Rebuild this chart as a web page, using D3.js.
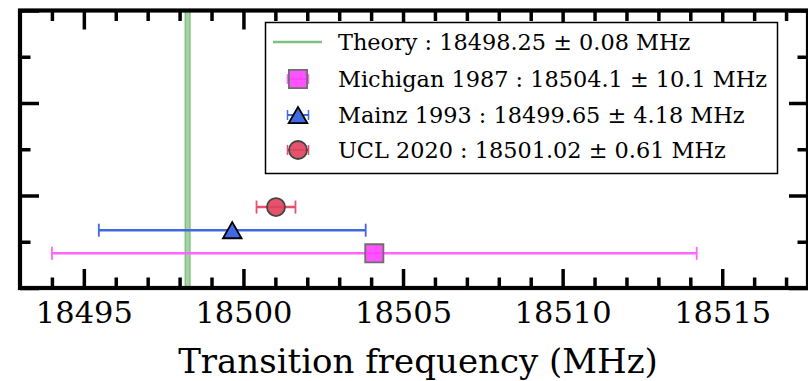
<!DOCTYPE html>
<html>
<head>
<meta charset="utf-8">
<script src="https://cdn.jsdelivr.net/npm/d3@7"></script>
<style>
  body { margin: 0; background: #fff; }
  text { font-family: "DejaVu Serif", serif; fill: #000; }
</style>
</head>
<body>
<div id="chart"></div>
<script>
// measurements (MHz)
var names  = ["Michigan 1987", "Mainz 1993", "UCL 2020"];
var values = [18504.1, 18499.65, 18501.02];
var errors = [10.1, 4.18, 0.61];
var rows   = [1.5, 2.5, 3.5];
var theory = 18498.25, theoryErr = 0.08;
var xMajor = [18495, 18500, 18505, 18510, 18515];
var xMinor = d3.range(18494, 18518, 1);
var yMajor = [0, 4, 8, 12];
var yMinor = [2, 6, 10];

var fills   = ["#ff40ff", "#4169e1", "#e0405c"];
var edges   = ["#6e6e6e", "#000000", "#444444"];
var bars    = ["#ff66ff", "#4169e1", "#e8506a"];
var shapes  = [d3.symbolSquare, d3.symbolTriangle, d3.symbolCircle];
var sizes   = [330, 150, 255];
var shiftY  = [0, 2.7, 0];   // triangle centroid -> box centre

var W = 808, H = 381;
var svg = d3.select("#chart").append("svg")
  .attr("width", W).attr("height", H);

var x = d3.scaleLinear().domain([18493, 18517.75]).range([20, 810]);
var y = d3.scaleLinear().domain([0, 12]).range([288, 10.5]);

// theory band
svg.append("rect")
  .attr("x", x(theory - theoryErr)).attr("y", y(12))
  .attr("width", x(theory + theoryErr) - x(theory - theoryErr))
  .attr("height", y(0) - y(12))
  .attr("fill", "green").attr("fill-opacity", 0.35)
  .attr("stroke", "green").attr("stroke-opacity", 0.45).attr("stroke-width", 1);

// error bars + markers
for (let i = 0; i < names.length; i++) {
  var g = svg.append("g");
  var x0 = x(values[i] - errors[i]), x1 = x(values[i] + errors[i]), yy = y(rows[i]);
  g.append("line").attr("x1", x0).attr("x2", x1).attr("y1", yy).attr("y2", yy)
    .attr("stroke", bars[i]).attr("stroke-width", 2.5);
  [x0, x1].forEach(function(cx){
    g.append("line").attr("x1", cx).attr("x2", cx).attr("y1", yy - 6.5).attr("y2", yy + 6.5)
      .attr("stroke", bars[i]).attr("stroke-width", 1.8);
  });
  g.append("path")
    .attr("d", d3.symbol().type(shapes[i]).size(sizes[i])())
    .attr("transform", "translate(" + x(values[i]) + "," + (yy + shiftY[i]) + ")")
    .attr("fill", fills[i]).attr("fill-opacity", i == 1 ? 1 : 0.9)
    .attr("stroke", edges[i]).attr("stroke-width", 1.8);
}

// axes with inward ticks
function ticks(axisFn, vals, len, tr) {
  var a = svg.append("g").attr("transform", tr)
    .call(axisFn.tickValues(vals).tickSizeInner(len).tickSizeOuter(0).tickFormat(""));
  a.select(".domain").remove();
  a.selectAll(".tick line").attr("stroke", "#000").attr("stroke-width", 3.5);
  return a;
}
var minorX = xMinor.filter(function(v){ return xMajor.indexOf(v) < 0; });
var bot = ticks(d3.axisBottom(x), xMajor, -19, "translate(0,288)");
ticks(d3.axisBottom(x), minorX, -10.5, "translate(0,288)");
ticks(d3.axisTop(x), xMajor, -19, "translate(0,10.5)");
ticks(d3.axisTop(x), minorX, -10.5, "translate(0,10.5)");
ticks(d3.axisLeft(y), yMajor, -19, "translate(20,0)");
ticks(d3.axisLeft(y), yMinor, -10.5, "translate(20,0)");
ticks(d3.axisRight(y), yMajor, -19, "translate(808,0)");
ticks(d3.axisRight(y), yMinor, -10.5, "translate(808,0)");

bot.selectAll(".tick").append("text")
  .attr("y", 35).attr("text-anchor", "middle")
  .style("font-size", "30.5px")
  .text(function(d){ return d; });

// spines
svg.append("rect")
  .attr("x", 20).attr("y", 10.5).attr("width", 788).attr("height", 277.5)
  .attr("fill", "none").attr("stroke", "#000").attr("stroke-width", 4.2);

svg.append("text")
  .attr("x", 418).attr("y", 373).attr("text-anchor", "middle")
  .style("font-size", "34px")
  .text("Transition frequency (MHz)");

// legend
var leg = svg.append("g");
leg.append("rect").attr("x", 265.5).attr("y", 22.5).attr("width", 512).attr("height", 151)
  .attr("fill", "#fff").attr("stroke", "#000").attr("stroke-width", 1.5);
var legY = [42, 79, 115, 150];
leg.append("line").attr("x1", 273).attr("x2", 322).attr("y1", legY[0]).attr("y2", legY[0])
  .attr("stroke", "#7fbf7f").attr("stroke-width", 2.5);
leg.append("text").attr("x", 338).attr("y", legY[0] + 8).style("font-size", "22.4px")
  .text("Theory : " + theory + " \u00b1 " + theoryErr.toFixed(2) + " MHz");
for (let i = 0; i < names.length; i++) {
  var ly = legY[i + 1];
  leg.append("line").attr("x1", 287.5).attr("x2", 308.5).attr("y1", ly).attr("y2", ly)
    .attr("stroke", bars[i]).attr("stroke-width", 2);
  [287.5, 308.5].forEach(function(cx){
    leg.append("line").attr("x1", cx).attr("x2", cx).attr("y1", ly - 5).attr("y2", ly + 5)
      .attr("stroke", bars[i]).attr("stroke-width", 1.5);
  });
  leg.append("path")
    .attr("d", d3.symbol().type(shapes[i]).size(sizes[i])())
    .attr("transform", "translate(298," + (ly + shiftY[i]) + ")")
    .attr("fill", fills[i]).attr("fill-opacity", i == 1 ? 1 : 0.9)
    .attr("stroke", edges[i]).attr("stroke-width", 1.8);
  leg.append("text").attr("x", 338).attr("y", ly + 8).style("font-size", "22.4px")
    .text(names[i] + " : " + values[i] + " \u00b1 " + errors[i] + " MHz");
}
</script>
</body>
</html>
